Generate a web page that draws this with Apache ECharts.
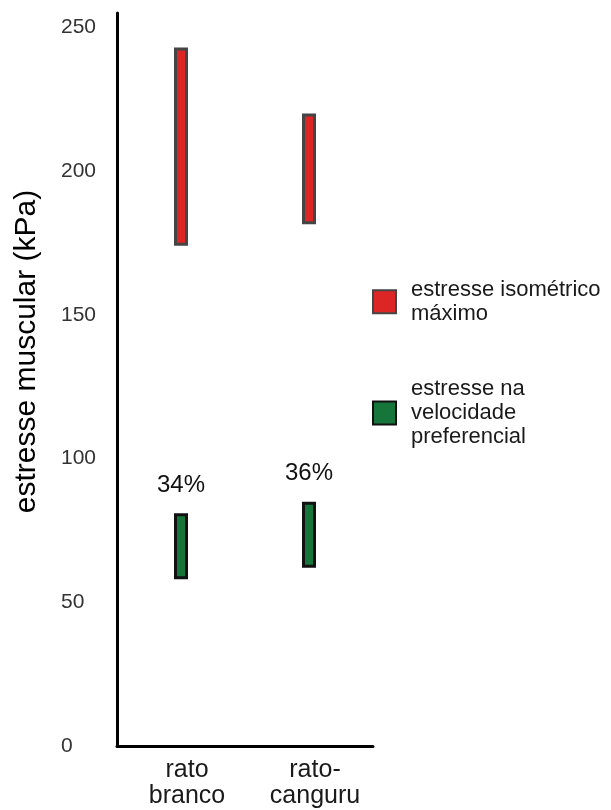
<!DOCTYPE html>
<html>
<head>
<meta charset="utf-8">
<script src="https://cdn.jsdelivr.net/npm/echarts@6/dist/echarts.min.js"></script>
<style>
  html, body { margin: 0; padding: 0; background: #fff; }
  #main { width: 611px; height: 810px; }
</style>
</head>
<body>
<div id="main"></div>
<script>
// categorias e valores
var categories = ['rato\nbranco', 'rato-\ncanguru'];
var isoLow = [174, 181.5];
var isoHigh = [243, 220];
var prefLow = [58, 62];
var prefHigh = [81, 85];
var prefPct = ['34%', '36%'];

var isoName = 'estresse isométrico máximo';
var prefName = 'estresse na velocidade preferencial';
var legendText = {};
legendText[isoName] = 'estresse isométrico\nmáximo';
legendText[prefName] = 'estresse na\nvelocidade\npreferencial';

var fontFamily = '"Liberation Sans", Arial, sans-serif';

function diff(hi, lo) {
    var out = [];
    for (var i = 0; i < hi.length; i++) {
        out.push(hi[i] - lo[i]);
    }
    return out;
}

var myChart = echarts.init(document.getElementById('main'));

var options = {
    animation: false,
    textStyle: {fontFamily: fontFamily},
    grid: {left: 117, right: 238, top: 13, bottom: 64},
    legend: [
        {
            data: [isoName],
            left: 372, top: 274.7, padding: 0,
            orient: 'vertical',
            selectedMode: false,
            icon: 'rect',
            itemWidth: 23, itemHeight: 23,
            formatter: function (name) { return legendText[name]; },
            textStyle: {fontSize: 22, lineHeight: 24, color: '#1a1a1a', fontFamily: fontFamily, padding: [0, 0, 6, 10]}
        },
        {
            data: [prefName],
            left: 372, top: 363, padding: 0,
            orient: 'vertical',
            selectedMode: false,
            icon: 'rect',
            itemWidth: 23, itemHeight: 23,
            formatter: function (name) { return legendText[name]; },
            textStyle: {fontSize: 22, lineHeight: 24, color: '#1a1a1a', fontFamily: fontFamily, padding: [28, 0, 0, 10]}
        }
    ],
    xAxis: {
        type: 'category',
        data: categories,
        axisLine: {lineStyle: {color: '#000', width: 3}},
        axisTick: {show: false},
        axisLabel: {
            fontSize: 25, lineHeight: 26, color: '#1a1a1a', margin: 11,
            padding: [0, 0, 0, 12], fontFamily: fontFamily
        }
    },
    yAxis: {
        type: 'value',
        min: 0, max: 255, interval: 50,
        name: 'estresse muscular (kPa)',
        nameLocation: 'middle',
        nameGap: 75,
        nameRotate: 90,
        nameTextStyle: {fontSize: 30, color: '#000', fontFamily: fontFamily, padding: [0, 0, 0, 56]},
        axisLine: {show: true, lineStyle: {color: '#000', width: 3}},
        axisTick: {show: false},
        splitLine: {show: false},
        axisLabel: {
            showMaxLabel: false,
            align: 'left', margin: 56,
            fontSize: 21, color: '#333', fontFamily: fontFamily
        }
    },
    series: [
        {
            name: 'isoBase', type: 'bar', stack: 'iso',
            barWidth: 14, barGap: '-100%',
            itemStyle: {color: 'transparent'},
            data: isoLow
        },
        {
            name: isoName, type: 'bar', stack: 'iso',
            barWidth: 14, barGap: '-100%',
            itemStyle: {color: '#dc2626', borderColor: '#454545', borderWidth: 3},
            data: diff(isoHigh, isoLow)
        },
        {
            name: 'prefBase', type: 'bar', stack: 'pref',
            barWidth: 14, barGap: '-100%',
            itemStyle: {color: 'transparent'},
            data: prefLow
        },
        {
            name: prefName, type: 'bar', stack: 'pref',
            barWidth: 14, barGap: '-100%',
            itemStyle: {color: '#16753a', borderColor: '#111', borderWidth: 3},
            label: {
                show: true, position: 'top', distance: 16,
                fontSize: 24, color: '#111', fontFamily: fontFamily,
                formatter: function (p) { return prefPct[p.dataIndex]; }
            },
            data: diff(prefHigh, prefLow)
        }
    ]
};

myChart.setOption(options);
</script>
</body>
</html>
